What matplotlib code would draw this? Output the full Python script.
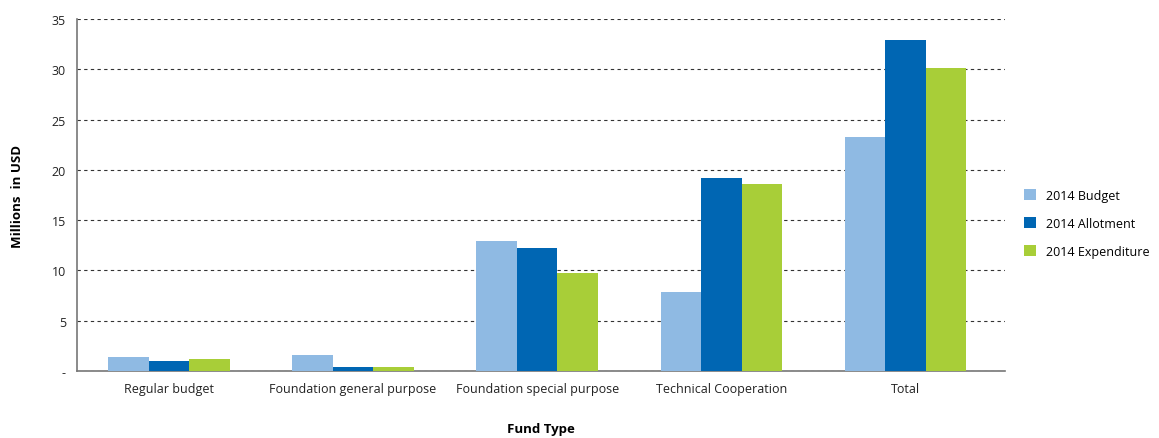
import numpy as np
import matplotlib.pyplot as plt

plt.rcParams['font.family'] = ['Open Sans', 'DejaVu Sans']

categories = ['Regular budget', 'Foundation general purpose', 'Foundation special purpose',
              'Technical Cooperation', 'Total']
budget = [1.4, 1.6, 12.9, 7.9, 23.3]
allotment = [1.0, 0.4, 12.2, 19.2, 32.9]
expenditure = [1.2, 0.4, 9.8, 18.6, 30.1]
series = ['2014 Budget', '2014 Allotment', '2014 Expenditure']
colors = ['#8FBAE3', '#0066B3', '#A8CE38']
yticks = [0, 5, 10, 15, 20, 25, 30, 35]
ytick_labels = ['-', '5', '10', '15', '20', '25', '30', '35']

fig = plt.figure(figsize=(11.59, 4.39), dpi=100)
ax = fig.add_axes([0.0664, 0.1526, 0.8006, 0.8014])

x = np.arange(len(categories))
w = 0.22
for i, (vals, lab, c) in enumerate(zip([budget, allotment, expenditure], series, colors)):
    ax.bar(x + (i - 1) * w, vals, w, color=c, label=lab, zorder=3)

ax.set_xlim(-0.5, 4.54)
ax.set_ylim(0, 35)
ax.set_yticks(yticks)
ax.set_yticklabels(ytick_labels)
ax.set_xticks(x)
ax.set_xticklabels(categories)
ax.tick_params(axis='both', length=0, labelsize=9, colors='#222222', pad=8)
ax.yaxis.grid(True, ls=(0, (3, 3)), color='#333333', lw=0.8, zorder=0)
for s in ['top', 'right']:
    ax.spines[s].set_visible(False)
for s in ['left', 'bottom']:
    ax.spines[s].set_color('#777777')
    ax.spines[s].set_linewidth(1.2)

ax.set_ylabel('Millions  in USD', fontsize=9.5, fontweight='bold', labelpad=20)
ax.set_xlabel('Fund Type', fontsize=9.5, fontweight='bold')
ax.xaxis.set_label_coords(0.5, -0.145)

ax.legend(loc='center left', bbox_to_anchor=(1.008, 0.42), frameon=False, fontsize=9,
          handlelength=1.0, handleheight=1.0, labelspacing=1.2, handletextpad=0.8)

fig.savefig('out.png', dpi=100)
